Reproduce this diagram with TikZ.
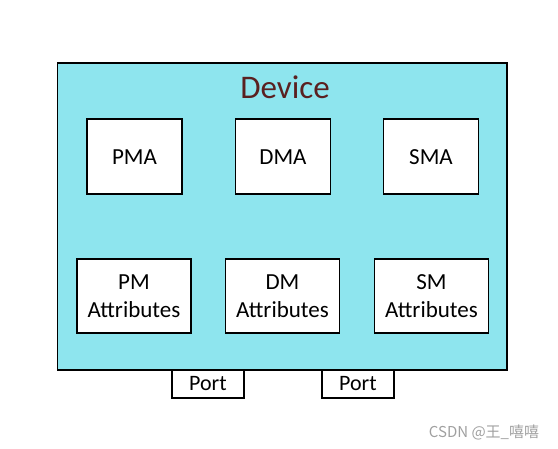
\documentclass[tikz,border=0pt]{standalone}
\usepackage{fontspec}
\setmainfont{Carlito}
\newfontfamily\cjkwm{Noto Sans CJK SC}
\definecolor{devfill}{HTML}{8EE5EE}
\definecolor{devtext}{HTML}{5A2020}
\definecolor{wmgray}{HTML}{A0A0A0}
\begin{document}
\begin{tikzpicture}[x=1pt,y=-1pt,
  box/.style={draw=black,fill=white,line width=1.8pt,inner sep=0pt,align=center,
    font=\fontsize{23}{28}\selectfont},
  mod/.style={box,minimum width=95pt,minimum height=75pt},
  attr/.style={box,minimum width=114pt,minimum height=74pt},
  portbox/.style={box,minimum width=72pt,minimum height=28pt,font=\fontsize{22}{26}\selectfont}]
\useasboundingbox (0,0) rectangle (558,449);
\node[draw=black,fill=devfill,line width=1.8pt,minimum width=449.5pt,minimum height=307pt,inner sep=0pt] (dev) at (282.25,216.5) {};
\node[text=devtext,font=\fontsize{33}{38}\selectfont] (devlbl) at (285,87) {Device};
\node[mod] (pma) at (134.5,156.8) {PMA};
\node[mod] (dma) at (283,156.8) {DMA};
\node[mod] (sma) at (431,156.8) {SMA};
\node[attr] (pmat) at (134,296) {PM\\Attributes};
\node[attr] (dmat) at (282.5,296) {DM\\Attributes};
\node[attr] (smat) at (431.5,296) {SM\\Attributes};
\node[portbox] (p1) at (208,384) {Port};
\node[portbox] (p2) at (358,384) {Port};
\node[text=wmgray,font=\cjkwm\fontsize{15}{17}\selectfont] (wm) at (484,432) {CSDN @王\_嘻嘻};
\end{tikzpicture}
\end{document}
